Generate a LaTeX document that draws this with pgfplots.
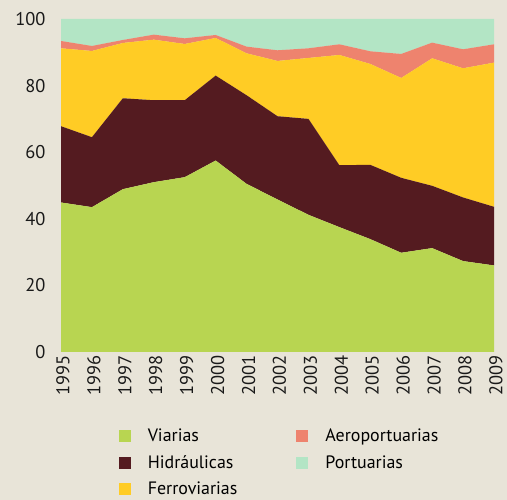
\documentclass[border=0pt]{standalone}
\usepackage{fontspec}
\setmainfont{PT Sans}
\usepackage{pgfplots}
\usepackage{pgfplotstable}
\pgfplotsset{compat=1.18}
\definecolor{bg}{HTML}{E8E4D8}
\definecolor{cV}{HTML}{B8D551}
\definecolor{cH}{HTML}{541B20}
\definecolor{cF}{HTML}{FFCC25}
\definecolor{cA}{HTML}{EE836E}
\definecolor{cP}{HTML}{B3E5C5}
\definecolor{axc}{HTML}{C8A46A}
\pgfplotstableread{
year V H F A P
1995 44.9 22.9 23.4 2.2 6.6
1996 43.5 21.0 25.9 1.5 8.1
1997 48.9 27.3 16.6 0.9 6.3
1998 51.0 24.6 18.2 1.5 4.7
1999 52.5 23.1 16.9 1.7 5.8
2000 57.5 25.5 11.3 0.9 4.8
2001 50.5 26.6 12.6 2.0 8.3
2002 45.8 25.0 16.6 3.2 9.4
2003 41.2 28.8 18.3 2.9 8.8
2004 37.5 18.6 33.1 3.2 7.6
2005 33.9 22.3 30.3 3.8 9.7
2006 29.8 22.5 30.0 7.2 10.5
2007 31.2 18.7 38.3 4.7 7.1
2008 27.3 19.1 38.8 5.7 9.1
2009 26.0 17.6 43.3 5.5 7.6
}\data
\pgfplotsset{myleg/.style={legend image code/.code={\fill[##1] (0bp,-6bp) rectangle (12bp,6bp);}}}
\begin{document}
\begin{tikzpicture}
\path[use as bounding box, fill=bg] (0,0) rectangle (507bp,500bp);
\begin{axis}[
  at={(61bp,148bp)}, anchor=south west,
  scale only axis, width=433bp, height=333bp,
  xmin=1995, xmax=2009, ymin=0, ymax=100,
  stack plots=y,
  axis line style={draw=none},
  tick style={draw=none},
  xtick pos=bottom, ytick pos=left,
  xtick={1995,...,2009}, ytick={0,20,...,100},
  /pgf/number format/assume math mode=true,
  /pgf/number format/1000 sep={},
  tick label style={font=\fontsize{18.5}{18.5}\selectfont, text=black!90},
  xticklabel style={rotate=90, anchor=east, yshift=-2bp},
  yticklabel style={anchor=east, xshift=-12bp},
  legend style={at={(axis description cs:0.133,-0.225)}, anchor=north west,
    draw=none, fill=none, inner sep=0pt,
    font=\fontsize{18}{18}\selectfont, row sep=8bp,
    /tikz/every odd column/.append style={column sep=15bp},
    /tikz/every even column/.append style={column sep=57bp}},
  legend cell align=left,
  legend columns=3, transpose legend,
]
\addplot[fill=cV, draw=none, myleg] table[x=year,y=V]{\data} \closedcycle;
\addplot[fill=cH, draw=none, myleg] table[x=year,y=H]{\data} \closedcycle;
\addplot[fill=cF, draw=none, myleg] table[x=year,y=F]{\data} \closedcycle;
\addplot[fill=cA, draw=none, myleg] table[x=year,y=A]{\data} \closedcycle;
\addplot[fill=cP, draw=none, myleg] table[x=year,y=P]{\data} \closedcycle;
\legend{Viarias, Hidráulicas, Ferroviarias, Aeroportuarias, Portuarias}
\draw[axc, line width=0.8pt] (rel axis cs:0,0) -- (rel axis cs:1,0);
\end{axis}
\end{tikzpicture}
\end{document}
